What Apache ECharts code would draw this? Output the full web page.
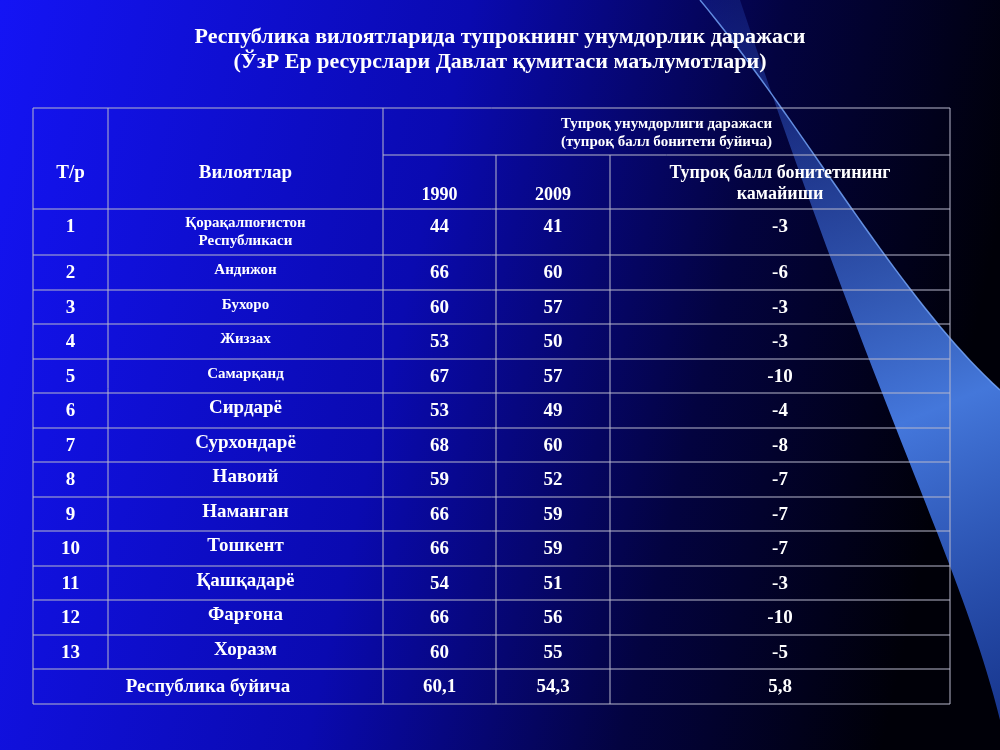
<!DOCTYPE html>
<html><head><meta charset="utf-8">
<script src="https://cdn.jsdelivr.net/npm/echarts@6/dist/echarts.min.js"></script>
<style>html,body{margin:0;padding:0;background:#000}#c{width:1000px;height:750px}</style>
</head><body><div id="c"></div>
<script>
const titleLines = ["Республика вилоятларида тупрокнинг унумдорлик даражаси","(ЎзР Ер ресурслари Давлат қумитаси маълумотлари)"];
const numbers = ["1","2","3","4","5","6","7","8","9","10","11","12","13"];
const regions = ["Қорақалпоғистон\nРеспубликаси","Андижон","Бухоро","Жиззах","Самарқанд","Сирдарё","Сурхондарё","Навоий","Наманган","Тошкент","Қашқадарё","Фарғона","Хоразм"];
const smallRegion = [true,true,true,true,true,false,false,false,false,false,false,false,false];
const v1990 = [44,66,60,53,67,53,68,59,66,66,54,66,60];
const v2009 = [41,60,57,50,57,49,60,52,59,59,51,56,55];
const decline = ["-3","-6","-3","-3","-10","-4","-8","-7","-7","-7","-3","-10","-5"];
const totalRow = ["Республика буйича","60,1","54,3","5,8"];
const headers = {num:"Т/р", region:"Вилоятлар", group:"Тупроқ унумдорлиги даражаси\n(тупроқ балл бонитети буйича)", y1:"1990", y2:"2009", dec:"Тупроқ балл бонитетининг\nкамайиши"};

const colX = [33,108,383,496,610,950];
const rowY = [209,255,290,324,359,393,428,462,497,531,566,600,635,669,704];
const tableTop = 108, subLine = 155;
const font = '"Liberation Serif", "DejaVu Serif", serif';
const els = [];
function bez(p0,p1,p2,p3,n){const out=[];for(let k=0;k<=n;k++){const t=k/n,u=1-t;out.push([u*u*u*p0[0]+3*u*u*t*p1[0]+3*u*t*t*p2[0]+t*t*t*p3[0],u*u*u*p0[1]+3*u*u*t*p1[1]+3*u*t*t*p2[1]+t*t*t*p3[1]]);}return out;}
const edgeA = bez([700,0],[800,120],[900,300],[1000,390],40);
const edgeB = bez([1000,720],[960,560],[880,420],[740,0],40);
els.push({type:'polygon', shape:{points:edgeA.concat(edgeB)},
  style:{fill:{type:'linear',x:0,y:0,x2:1,y2:1,colorStops:[{offset:0,color:'rgba(60,110,255,0.15)'},{offset:0.6,color:'rgba(80,140,255,0.85)'},{offset:1,color:'rgba(40,90,230,0.6)'}]}}});
els.push({type:'polyline', shape:{points:edgeA}, style:{stroke:'rgba(120,170,255,0.8)',lineWidth:1.5,fill:null}});
function txt(x,y,t,size){els.push({type:'text',x:x,y:y,style:{text:t,fill:'#fff',font:'bold '+size+'px '+font,align:'center',verticalAlign:'middle',lineHeight:size*1.2}});}
function line(x1,y1,x2,y2){els.push({type:'line',shape:{x1,y1,x2,y2},style:{stroke:'#b8b8cc',lineWidth:1}});}
txt(500,37,titleLines[0],22); txt(500,62,titleLines[1],22);
line(colX[0],tableTop,colX[5],tableTop);
line(colX[2],subLine,colX[5],subLine);
rowY.forEach(y=>line(colX[0],y,colX[5],y));
colX.forEach((x,i)=>{ if(i===3||i===4) line(x,subLine,x,rowY[rowY.length-1]); else if(i===1) line(x,tableTop,x,rowY[rowY.length-2]); else line(x,tableTop,x,rowY[rowY.length-1]);});
const mid=i=>(colX[i]+colX[i+1])/2;
txt(mid(0),173,headers.num,19); txt(mid(1),173,headers.region,19);
txt((colX[2]+colX[5])/2,133,headers.group,15);
txt(mid(2),195,headers.y1,18); txt(mid(3),195,headers.y2,18); txt(mid(4),184,headers.dec,18);
numbers.forEach((n,i)=>{
  const y0=rowY[i]; const yc=(rowY[i]+rowY[i+1])/2; const ty = i===0? y0+18 : yc+1;
  txt(mid(0),ty,n,19);
  txt(mid(1), i===0? yc : yc-2, regions[i], smallRegion[i]?15:19);
  txt(mid(2),ty,String(v1990[i]),19); txt(mid(3),ty,String(v2009[i]),19); txt(mid(4),ty,decline[i],19);
});
const yT=(rowY[13]+rowY[14])/2+1;
txt((colX[0]+colX[2])/2,yT,totalRow[0],19); txt(mid(2),yT,totalRow[1],19); txt(mid(3),yT,totalRow[2],19); txt(mid(4),yT,totalRow[3],19);

const chart = echarts.init(document.getElementById('c'));
chart.setOption({
  backgroundColor:{type:'linear',x:0,y:0,x2:1,y2:0.3,colorStops:[{offset:0,color:'#1414f5'},{offset:0.45,color:'#0a0ab0'},{offset:0.75,color:'#030340'},{offset:1,color:'#000008'}]},
  graphic: els
});
</script></body></html>
